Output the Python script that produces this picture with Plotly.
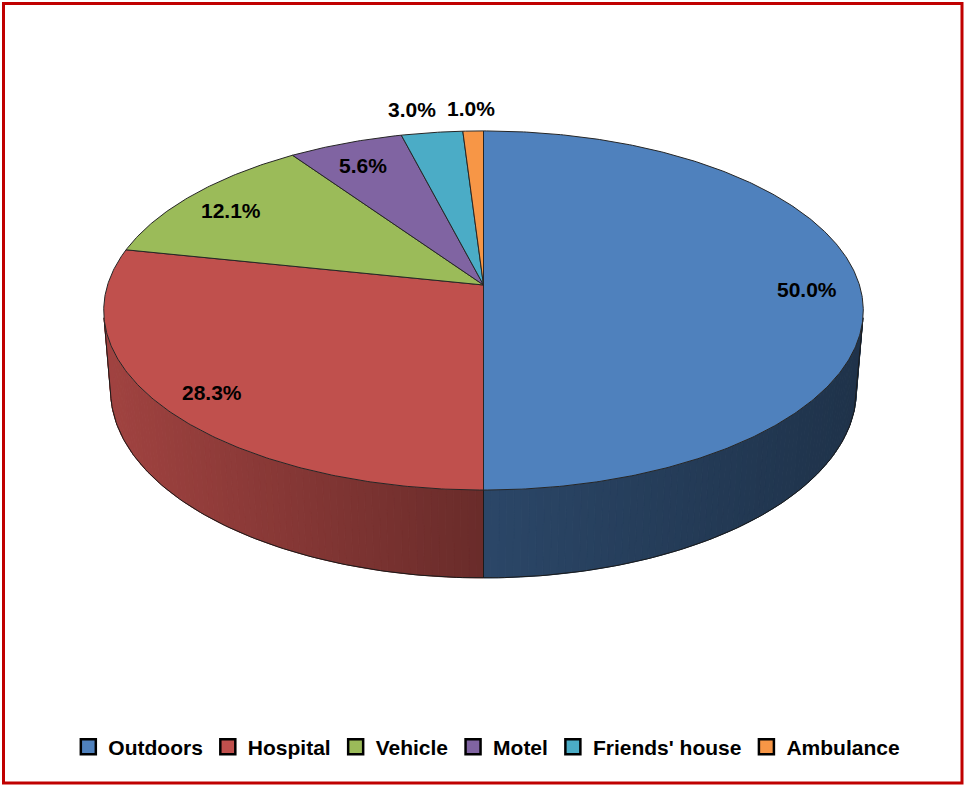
import numpy as np
import plotly.graph_objects as go

# ---------------- data ----------------
categories = ["Outdoors", "Hospital", "Vehicle", "Motel", "Friends' house", "Ambulance"]
shares = [50.0, 28.3, 12.1, 5.6, 3.0, 1.0]
colors = ["#4F81BD", "#C0504D", "#9BBB59", "#8064A2", "#4BACC6", "#F79646"]

# ---------------- layout / projection constants ----------------
W, H = 964, 785
CX, CY = 483.5, 285.0          # screen position of pie centre (px)
D = 6.227                      # camera distance (pie radius = 1)
F = 2341.0                     # focal length (px)
SINA = 0.468                   # sin of elevation
COSA = np.sqrt(1 - SINA ** 2)
DEPTH = 0.243                  # thickness of the pie
FONT = "Liberation Sans, Arial, sans-serif"
# small pixel nudges for the outside labels (x, y) so they don't collide
LABEL_NUDGE = {"Friends' house": (-11, -3), "Ambulance": (0, -4)}


def proj(u, v, w):
    u = np.asarray(u, float); v = np.asarray(v, float); w = np.asarray(w, float)
    d = D + v * COSA - w * SINA
    X = F * u / d
    Y = F * (v * SINA + w * COSA) / d
    return CX + X, CY - Y


def ring(phi_deg, w):
    p = np.radians(phi_deg)
    return proj(np.sin(p), np.cos(p), np.full_like(p, w, dtype=float))


def hex2rgb(h):
    h = h.lstrip("#")
    return [int(h[i:i + 2], 16) for i in (0, 2, 4)]


def shade(hexcol, x):
    f = np.interp(x, [105, 484, 863], [0.84, 0.55, 0.39])
    r, g, b = hex2rgb(hexcol)
    return f"rgb({int(r * f)},{int(g * f)},{int(b * f)})"


fig = go.Figure()

bounds = np.concatenate([[0], np.cumsum(shares)]) / sum(shares) * 360.0
# silhouette angles of the cylinder side
phi_t = np.degrees(np.arccos(-1.0 / (D * COSA)))
vis0, vis1 = phi_t, 360 - phi_t

# ---------- side walls (gradient strips) ----------
for i, col in enumerate(colors):
    a0, a1 = max(bounds[i], vis0), min(bounds[i + 1], vis1)
    if a1 <= a0:
        continue
    n = max(2, int(np.ceil((a1 - a0) / 1.0)))
    edges = np.linspace(a0, a1, n + 1)
    for j in range(n):
        pa = np.array([edges[j], edges[j + 1]])
        tx, ty = ring(pa, 0.0)
        bx, by = ring(pa, -DEPTH)
        xs = [tx[0], tx[1], bx[1], bx[0], tx[0]]
        ys = [ty[0], ty[1], by[1], by[0], ty[0]]
        c = shade(col, float(np.mean(xs)))
        fig.add_trace(go.Scatter(x=xs, y=ys, mode="lines", fill="toself", fillcolor=c,
                                 line=dict(color=c, width=1), hoverinfo="skip",
                                 showlegend=False))

# side outline
arc = np.linspace(vis0, vis1, 200)
bx, by = ring(arc, -DEPTH)
tx0, ty0 = ring(np.array([vis0]), 0.0)
tx1, ty1 = ring(np.array([vis1]), 0.0)
ox = [tx0[0]] + list(bx) + [tx1[0]]
oy = [ty0[0]] + list(by) + [ty1[0]]
for b in bounds[1:-1]:
    if vis0 < b < vis1:
        t_x, t_y = ring(np.array([b]), 0.0)
        b_x, b_y = ring(np.array([b]), -DEPTH)
        ox += [None, t_x[0], b_x[0]]
        oy += [None, t_y[0], b_y[0]]
fig.add_trace(go.Scatter(x=ox, y=oy, mode="lines", line=dict(color="#1a1a1a", width=1),
                         hoverinfo="skip", showlegend=False))

# ---------- top faces ----------
for i, col in enumerate(colors):
    a0, a1 = bounds[i], bounds[i + 1]
    n = max(3, int(np.ceil((a1 - a0) / 0.5)))
    ph = np.linspace(a0, a1, n + 1)
    ax_, ay_ = ring(ph, 0.0)
    xs = [CX] + list(ax_) + [CX]
    ys = [CY] + list(ay_) + [CY]
    fig.add_trace(go.Scatter(x=xs, y=ys, mode="lines", fill="toself", fillcolor=col,
                             line=dict(color="#262626", width=1), hoverinfo="skip",
                             showlegend=False))

# ---------- data labels ----------
for i, s in enumerate(shares):
    mid = np.radians((bounds[i] + bounds[i + 1]) / 2)
    r = 0.86 if s >= 4 else 1.2
    lx, ly = proj(r * np.sin(mid), r * np.cos(mid), 0.0)
    dx, dy = LABEL_NUDGE.get(categories[i], (0, -4))
    fig.add_annotation(x=float(lx), y=float(ly), xref="x", yref="y", text=f"{s:.1f}%",
                       showarrow=False, xanchor="center", yanchor="middle",
                       xshift=dx, yshift=dy,
                       font=dict(family=FONT, size=21, color="black", weight="bold"))

# ---------- legend entries ----------
for cat, col in zip(categories, colors):
    fig.add_trace(go.Scatter(x=[None], y=[None], mode="markers", name=cat,
                             marker=dict(symbol="square", size=15, color=col,
                                         line=dict(color="black", width=2.5))))

fig.update_layout(
    width=W, height=H,
    margin=dict(l=0, r=0, t=0, b=0, pad=0),
    paper_bgcolor="white", plot_bgcolor="white",
    xaxis=dict(range=[0, W], visible=False, fixedrange=True),
    yaxis=dict(range=[H, 0], visible=False, fixedrange=True),
    showlegend=True,
    legend=dict(orientation="h", x=0.505, xanchor="center", y=1 - 747 / H, yanchor="middle",
                font=dict(family=FONT, size=21, color="black", weight="bold"),
                bgcolor="rgba(0,0,0,0)", itemclick=False, itemdoubleclick=False,
                tracegroupgap=0),
    shapes=[dict(type="rect", xref="paper", yref="paper",
                 x0=3.5 / W, x1=962 / W, y0=1 - 783 / H, y1=1 - 3.5 / H,
                 line=dict(color="#C00000", width=3), fillcolor="rgba(0,0,0,0)")],
)

fig.write_html("out.html", config={"displayModeBar": False},
               post_script="document.body.style.margin='0';document.body.style.overflow='hidden';")
